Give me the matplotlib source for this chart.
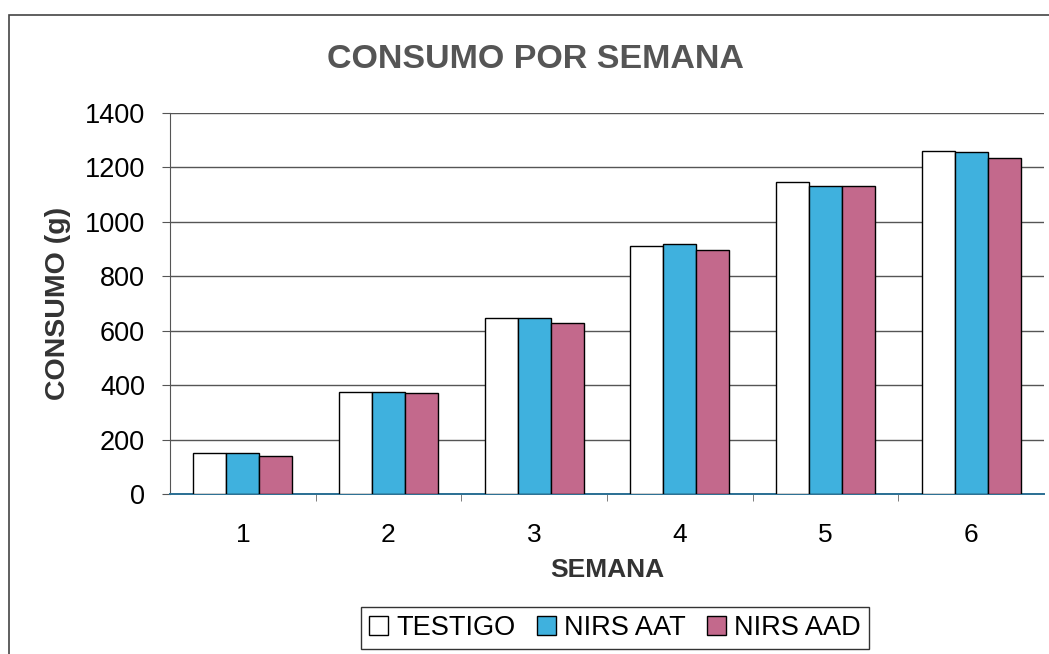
import matplotlib
matplotlib.use("Agg")
import matplotlib.pyplot as plt
import numpy as np
from matplotlib.patches import Rectangle

plt.rcParams["font.family"] = ["Liberation Sans", "DejaVu Sans"]

semanas = ["1", "2", "3", "4", "5", "6"]
testigo = [150, 376, 647, 911, 1145, 1260]
nirs_aat = [150, 375, 647, 918, 1132, 1257]
nirs_aad = [140, 372, 628, 897, 1132, 1236]

series = [
	("TESTIGO", testigo, "white"),
	("NIRS AAT", nirs_aat, "#3fb1de"),
	("NIRS AAD", nirs_aad, "#c3698c"),
]

fig = plt.figure(figsize = (10.49, 6.54), dpi = 100)
fig.patches.append(Rectangle((9 / 1049, -0.05), 1.2, 1.05 - 15 / 654,
	transform = fig.transFigure, fill = False, edgecolor = "#444444", linewidth = 1.2))

ax = fig.add_axes([170 / 1049, 160 / 654, 874 / 1049, 381 / 654])
x = np.arange(len(semanas))
width = 0.227
for i, (label, values, color) in enumerate(series):
	ax.bar(x + (i - 1) * width, values, width, color = color, edgecolor = "black",
		linewidth = 1.0, label = label, zorder = 3)

ax.set_xlim(-0.5, len(semanas) - 0.5)
ax.set_ylim(0, 1400)
ax.set_yticks(np.arange(0, 1401, 200))
ax.yaxis.grid(True, color = "#555555", linewidth = 1.0, zorder = 0)
ax.set_axisbelow(True)

ax.set_xticks(x)
ax.set_xticklabels(semanas)
ax.set_xticks(np.arange(0.5, len(semanas) - 0.5), minor = True)
ax.tick_params(axis = "x", which = "major", length = 0, pad = 21, labelsize = 19)
ax.tick_params(axis = "x", which = "minor", length = 5, direction = "out", color = "#666666")
ax.tick_params(axis = "y", length = 6, direction = "out", labelsize = 19.5, pad = 12, color = "#555555")

for side in ["top", "right"]:
	ax.spines[side].set_visible(False)
ax.spines["left"].set_color("#555555")
ax.spines["bottom"].set_color("#2a6f93")
ax.spines["bottom"].set_linewidth(1.4)

ax.set_xlabel("SEMANA", fontsize = 19, fontweight = "bold", color = "#333333", labelpad = 8)
ax.set_ylabel("CONSUMO (g)", fontsize = 20.5, fontweight = "bold", color = "#333333", labelpad = 10)

fig.text(535 / 1049, 1 - 59 / 654, "CONSUMO POR SEMANA", ha = "center", va = "center",
	fontsize = 24.5, fontweight = "bold", color = "#555555")

fig.legend(loc = "center", bbox_to_anchor = (615 / 1049, 26 / 654), ncol = 3,
	fontsize = 19.5, frameon = True, fancybox = False, edgecolor = "black",
	handlelength = 0.7, handleheight = 0.7, handletextpad = 0.3, columnspacing = 0.8,
	borderpad = 0.3, borderaxespad = 0)

fig.savefig("out.png", dpi = 100)
